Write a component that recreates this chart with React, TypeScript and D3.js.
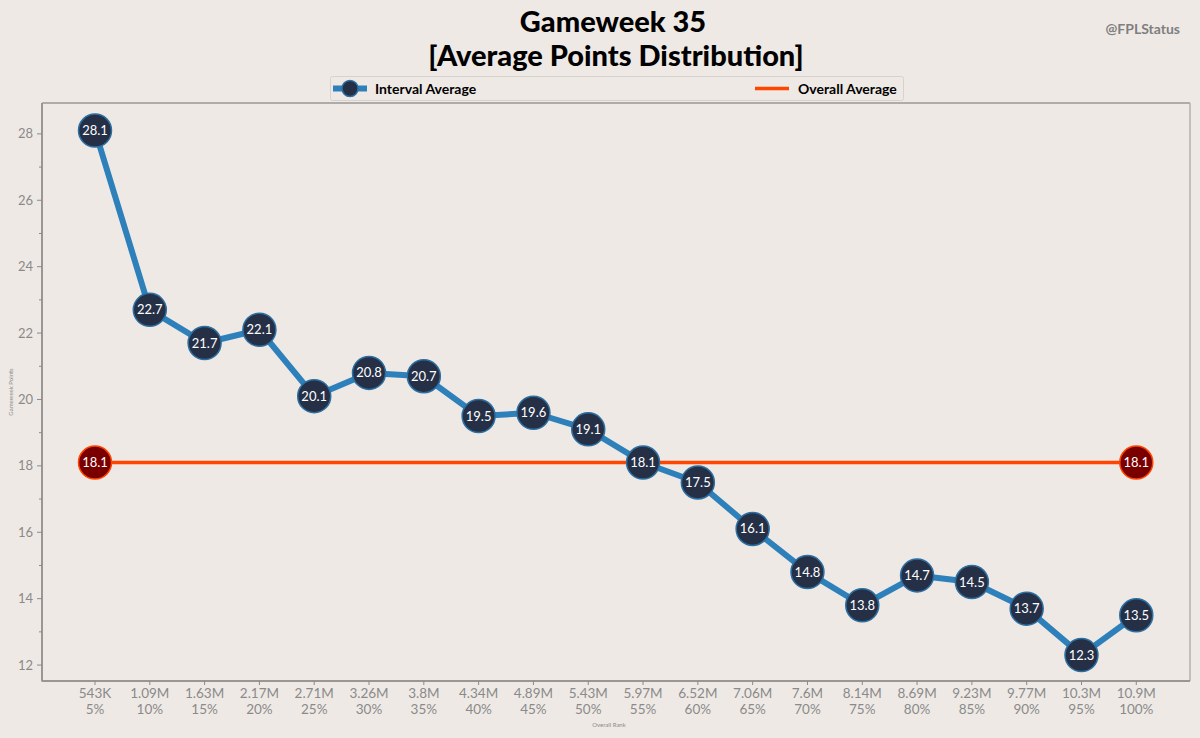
import React from "react";
import * as d3 from "d3";

const rankLabels = ["543K","1.09M","1.63M","2.17M","2.71M","3.26M","3.8M","4.34M","4.89M","5.43M","5.97M","6.52M","7.06M","7.6M","8.14M","8.69M","9.23M","9.77M","10.3M","10.9M"];
const pctLabels = ["5%","10%","15%","20%","25%","30%","35%","40%","45%","50%","55%","60%","65%","70%","75%","80%","85%","90%","95%","100%"];
const intervalAvg = [28.1,22.7,21.7,22.1,20.1,20.8,20.7,19.5,19.6,19.1,18.1,17.5,16.1,14.8,13.8,14.7,14.5,13.7,12.3,13.5];
const overallAvg = 18.1;
const yMajorTicks = [12,14,16,18,20,22,24,26,28];
const yMinorTicks = [13,15,17,19,21,23,25,27];

const W = 1200, H = 738;
const L = 42, R = 1190, T = 103, B = 681;
const FONT = "Lato, 'Noto Sans', sans-serif";

export default function App() {
  const x = d3.scaleLinear().domain([-0.967, 19.98]).range([L, R]);
  const y = d3.scaleLinear().domain([11.52, 28.93]).range([B, T]);
  const line = d3.line<number>().x((_, i) => x(i)).y((d) => y(d));
  const n = intervalAvg.length;
  const tickColor = "#8a8a8a";
  return (
    <svg width={W} height={H} style={{ position: "absolute", left: 0, top: 0, display: "block" }} fontFamily={FONT}>
      <rect x={0} y={0} width={W} height={H} fill="#EEE9E5" />
      <text x={613} y={32} textAnchor="middle" fontSize={29} fontWeight={900} fill="#000">Gameweek 35</text>
      <text x={616} y={66} textAnchor="middle" fontSize={29} fontWeight={900} fill="#000">[Average Points Distribution]</text>
      <text x={1180} y={34} textAnchor="end" fontSize={14} fontWeight={700} fill="#7f7f7f">@FPLStatus</text>

      {/* legend */}
      <rect x={330.5} y={76.5} width={573} height={24} fill="#EEE9E5" stroke="#d6d2ce" strokeWidth={1} rx={2} />
      <line x1={333} x2={367} y1={88.5} y2={88.5} stroke="#2e80ba" strokeWidth={6} />
      <circle cx={350} cy={88.5} r={8} fill="#253047" stroke="#2b6fa3" strokeWidth={1.5} />
      <text x={375} y={93.5} fontSize={14} fontWeight={700} fill="#000">Interval Average</text>
      <line x1={755} x2={789} y1={88.5} y2={88.5} stroke="#ff4500" strokeWidth={3.5} />
      <text x={798} y={93.5} fontSize={14} fontWeight={700} fill="#000">Overall Average</text>

      {/* axes frame */}
      <line x1={L} x2={R} y1={T} y2={T} stroke="#9a9693" strokeWidth={1.5} />
      <line x1={R} x2={R} y1={T} y2={B} stroke="#b5b1ae" strokeWidth={1.5} />
      <line x1={L} x2={L} y1={T} y2={B + 0.5} stroke="#9a9693" strokeWidth={2} />
      <line x1={L} x2={R} y1={B} y2={B} stroke="#9a9693" strokeWidth={2} />

      {yMajorTicks.map((t) => (
        <g key={"y" + t}>
          <line x1={L - 5} x2={L} y1={y(t)} y2={y(t)} stroke={tickColor} strokeWidth={1} />
          <text x={L - 9} y={y(t) + 4.5} textAnchor="end" fontSize={13} fill={tickColor}>{t}</text>
        </g>
      ))}
      {yMinorTicks.map((t) => (
        <line key={"m" + t} x1={L - 3} x2={L} y1={y(t)} y2={y(t)} stroke={tickColor} strokeWidth={1} />
      ))}
      {rankLabels.map((lab, i) => (
        <g key={"x" + i}>
          <line x1={x(i)} x2={x(i)} y1={B} y2={B + 4} stroke={tickColor} strokeWidth={1} />
          <text x={x(i)} y={698} textAnchor="middle" fontSize={13.5} fill={tickColor}>{lab}</text>
          <text x={x(i)} y={714} textAnchor="middle" fontSize={13.5} fill={tickColor}>{pctLabels[i]}</text>
        </g>
      ))}
      <text x={609} y={727} textAnchor="middle" fontSize={6} fill={tickColor}>Overall Rank</text>
      <text transform={`translate(13,${(T + B) / 2}) rotate(-90)`} textAnchor="middle" fontSize={6} fill={tickColor}>Gameweek Points</text>

      {/* overall average */}
      <line x1={x(0)} x2={x(n - 1)} y1={y(overallAvg)} y2={y(overallAvg)} stroke="#ff4500" strokeWidth={3.5} />
      {/* interval line */}
      <path d={line(intervalAvg) || ""} fill="none" stroke="#2e80ba" strokeWidth={6} strokeLinejoin="round" />
      {intervalAvg.map((v, i) => (
        <g key={"p" + i}>
          <circle cx={x(i)} cy={y(v)} r={16.5} fill="#253047" stroke="#2b6fa3" strokeWidth={1.5} />
          <text x={x(i)} y={y(v) + 4.5} textAnchor="middle" fontSize={13} fill="#fff">{v.toFixed(1)}</text>
        </g>
      ))}
      {[0, n - 1].map((i) => (
        <g key={"o" + i}>
          <circle cx={x(i)} cy={y(overallAvg)} r={16.5} fill="#7a0000" stroke="#ff4500" strokeWidth={1.5} />
          <text x={x(i)} y={y(overallAvg) + 4.5} textAnchor="middle" fontSize={13} fill="#fff">{overallAvg.toFixed(1)}</text>
        </g>
      ))}
    </svg>
  );
}
